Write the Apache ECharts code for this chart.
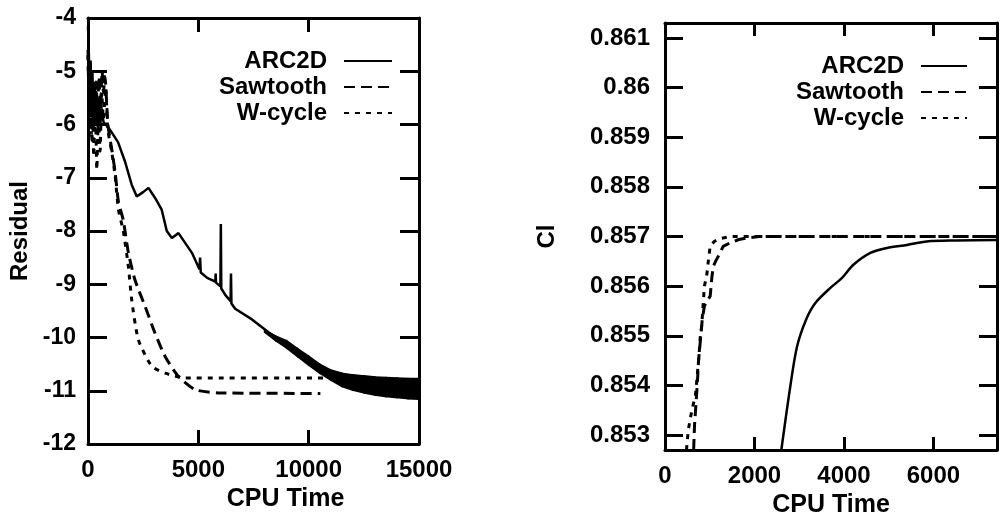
<!DOCTYPE html>
<html>
<head>
<meta charset="utf-8">
<script src="https://cdn.jsdelivr.net/npm/echarts@6/dist/echarts.min.js"></script>
<style>html,body{margin:0;padding:0;background:#fff;}#c{width:1005px;height:523px;}</style>
</head>
<body>
<div id="c"></div>
<script>
// ---------- Left panel: Residual vs CPU Time ----------
var residualArc2d = [[0,-4.15],[40,-4.7],[80,-5.6],[120,-4.8],[160,-5.8],[200,-5.0],[250,-6.1],[300,-5.2],[350,-5.9],[400,-5.4],[450,-6.2],[500,-5.6],[560,-6.0],[620,-5.7],[700,-5.95],[800,-6.0],[1000,-6.1],[1360,-6.33],[1680,-6.7],[1980,-7.13],[2210,-7.35],[2500,-7.27],[2740,-7.19],[3040,-7.38],[3340,-7.6],[3570,-8.0],[3800,-8.13],[4100,-8.04],[4710,-8.41],[5050,-8.72],[5080,-8.5],[5110,-8.78],[5400,-8.88],[5770,-8.95],[5785,-8.8],[5800,-8.97],[6000,-9.04],[6020,-7.87],[6040,-9.08],[6220,-9.2],[6460,-9.32],[6480,-8.8],[6500,-9.36],[6670,-9.46],[7430,-9.66],[8180,-9.9],[9000,-10.13],[10000,-10.44],[11000,-10.71],[12000,-10.84],[13000,-10.91],[14000,-10.95],[15000,-10.97]];
var residualSawtooth = [[0,-4.6],[60,-5.8],[120,-5.0],[180,-6.3],[240,-5.3],[300,-6.0],[360,-5.2],[420,-5.9],[500,-5.1],[560,-5.7],[640,-5.0],[700,-5.4],[770,-5.1],[900,-6.0],[1070,-6.45],[1225,-6.88],[1380,-7.45],[1600,-7.8],[1830,-8.41],[2130,-8.92],[2590,-9.42],[3040,-9.92],[3500,-10.36],[4100,-10.73],[4860,-10.98],[5900,-11.04],[10530,-11.05]];
var residualWcycle = [[0,-4.7],[50,-5.5],[100,-4.9],[150,-6.2],[200,-5.4],[260,-6.6],[330,-5.6],[400,-6.85],[470,-5.8],[550,-6.5],[620,-5.4],[700,-5.9],[800,-5.3],[900,-6.1],[1070,-6.5],[1225,-6.95],[1380,-7.6],[1600,-8.0],[1830,-8.67],[1980,-9.29],[2280,-10.04],[2890,-10.54],[3500,-10.67],[4400,-10.76],[10840,-10.76]];
// oscillation envelope of ARC2D at late times
var bandX     = [8000, 8500, 9000, 9500, 10000, 10500, 11000, 11500, 12000, 12500, 13000, 13500, 14000, 14500, 15000];
var bandUpper = [-9.86, -9.97, -10.06, -10.21, -10.35, -10.5, -10.61, -10.67, -10.7, -10.72, -10.74, -10.75, -10.76, -10.77, -10.77];
var bandLower = [-9.9, -10.06, -10.2, -10.36, -10.52, -10.67, -10.8, -10.92, -10.99, -11.04, -11.08, -11.11, -11.13, -11.15, -11.16];
var leftXTicks = [0, 5000, 10000, 15000];
var leftYTicks = [-12, -11, -10, -9, -8, -7, -6, -5, -4];

// ---------- Right panel: Cl vs CPU Time ----------
var clArc2d = [[2600,0.8527],[2800,0.85398],[2950,0.85478],[3150,0.85532],[3360,0.85566],[3690,0.85596],[3950,0.85616],[4210,0.85643],[4590,0.85667],[4960,0.85677],[5410,0.85683],[5850,0.8569],[6500,0.85692],[7420,0.85693]];
var clSawtooth = [[640,0.8527],[660,0.8532],[690,0.8536],[720,0.854],[750,0.8545],[790,0.8549],[830,0.8553],[880,0.8556],[940,0.8557],[1010,0.8558],[1050,0.8562],[1080,0.8564],[1130,0.8565],[1190,0.8566],[1300,0.8568],[1450,0.85687],[1650,0.85694],[1830,0.85697],[2100,0.857],[7420,0.857]];
var clWcycle = [[480,0.8527],[520,0.8531],[560,0.8533],[600,0.8535],[680,0.8538],[720,0.8542],[760,0.8546],[790,0.855],[820,0.8552],[850,0.8556],[880,0.856],[930,0.8562],[980,0.8566],[1010,0.8568],[1100,0.8569],[1200,0.85695],[1450,0.857],[7420,0.857]];
var rightXTicks = [0, 2000, 4000, 6000];
var rightYTicks = [0.853, 0.854, 0.855, 0.856, 0.857, 0.858, 0.859, 0.86, 0.861];

var seriesNames = ['ARC2D', 'Sawtooth', 'W-cycle'];

var FONT = 'Liberation Sans';
var dashLong = [11, 6];
var dashShort = [5, 6];
function plain(v) { return String(v); }

function axisBase(extra) {
  var a = {
    axisLine: {show: true, onZero: false, lineStyle: {color: '#000', width: 3}},
    splitLine: {show: false},
    axisLabel: {show: false},
    axisTick: {show: true, inside: true, length: 15, lineStyle: {color: '#000', width: 3}}
  };
  for (var k in extra) a[k] = extra[k];
  return a;
}
function legendOpt(right, top, w) {
  return {data: seriesNames, orient: 'vertical', align: 'right', right: right, top: top, padding: 0,
    itemWidth: w, itemHeight: 14, itemGap: 2, selectedMode: false,
    itemStyle: {opacity: 0, borderWidth: 0},
    textStyle: {fontFamily: FONT, fontWeight: 'bold', fontSize: 24, color: '#000', lineHeight: 24, padding: [0, 12, 0, 0]}};
}

// band segments: each item joins envelope point i to point i+1
var bandSegments = [];
for (var i = 0; i < bandX.length - 1; i++) {
  bandSegments.push([bandX[i], bandUpper[i], bandLower[i], bandX[i + 1], bandUpper[i + 1], bandLower[i + 1]]);
}
function renderBand(params, api) {
  var a = api.coord([api.value(0), api.value(1)]);
  var b = api.coord([api.value(3), api.value(4)]);
  var c = api.coord([api.value(3), api.value(5)]);
  var d = api.coord([api.value(0), api.value(2)]);
  return {type: 'polygon', shape: {points: [a, b, c, d]},
    style: {fill: '#000', stroke: '#000', lineWidth: 1.5}};
}

var chart = echarts.init(document.getElementById('c'), null, {renderer: 'canvas'});

chart.setOption({
  animation: false,
  backgroundColor: '#fff',
  grid: [
    {left: 88, right: 586, top: 18, bottom: 79},
    {left: 665, right: 8, top: 23, bottom: 73}
  ],
  legend: [legendOpt(612, 49, 48), legendOpt(37, 54, 46)],
  xAxis: [
    axisBase({type: 'value', gridIndex: 0, min: 0, max: 15000, position: 'bottom',
      name: 'CPU Time', nameLocation: 'middle', nameGap: 38,
      nameTextStyle: {fontFamily: FONT, fontWeight: 'bold', fontSize: 25, color: '#000', padding: [0, 0, 0, 64]},
      axisLabel: {show: true, customValues: leftXTicks, formatter: plain, margin: 14, fontFamily: FONT, fontWeight: 'bold', fontSize: 24, color: '#000'},
      axisTick: {show: true, inside: true, length: 14, customValues: leftXTicks, lineStyle: {color: '#000', width: 3}}}),
    axisBase({type: 'value', gridIndex: 0, min: 0, max: 15000, position: 'top',
      axisTick: {show: true, inside: true, length: 14, customValues: leftXTicks, lineStyle: {color: '#000', width: 3}}}),
    axisBase({type: 'value', gridIndex: 1, min: 0, max: 7420, position: 'bottom',
      name: 'CPU Time', nameLocation: 'middle', nameGap: 40,
      nameTextStyle: {fontFamily: FONT, fontWeight: 'bold', fontSize: 25, color: '#000'},
      axisLabel: {show: true, customValues: rightXTicks, formatter: plain, margin: 14, fontFamily: FONT, fontWeight: 'bold', fontSize: 24, color: '#000'},
      axisTick: {show: true, inside: true, length: 13, customValues: rightXTicks, lineStyle: {color: '#000', width: 3}}}),
    axisBase({type: 'value', gridIndex: 1, min: 0, max: 7420, position: 'top',
      axisTick: {show: true, inside: true, length: 13, customValues: rightXTicks, lineStyle: {color: '#000', width: 3}}})
  ],
  yAxis: [
    axisBase({type: 'value', gridIndex: 0, min: -12, max: -4, position: 'left',
      name: 'Residual', nameLocation: 'middle', nameGap: 56,
      nameTextStyle: {fontFamily: FONT, fontWeight: 'bold', fontSize: 24, color: '#000'},
      axisLabel: {show: true, customValues: leftYTicks, formatter: plain, margin: 12, fontFamily: FONT, fontWeight: 'bold', fontSize: 23, color: '#000'},
      axisTick: {show: true, inside: true, length: 19, customValues: leftYTicks, lineStyle: {color: '#000', width: 3}}}),
    axisBase({type: 'value', gridIndex: 0, min: -12, max: -4, position: 'right',
      axisTick: {show: true, inside: true, length: 19, customValues: leftYTicks, lineStyle: {color: '#000', width: 3}}}),
    axisBase({type: 'value', gridIndex: 1, min: 0.8527, max: 0.8613, position: 'left',
      name: 'Cl', nameLocation: 'middle', nameGap: 106,
      nameTextStyle: {fontFamily: FONT, fontWeight: 'bold', fontSize: 24, color: '#000'},
      axisLabel: {show: true, customValues: rightYTicks, formatter: plain, margin: 15, fontFamily: FONT, fontWeight: 'bold', fontSize: 24, color: '#000'},
      axisTick: {show: true, inside: true, length: 18, customValues: rightYTicks, lineStyle: {color: '#000', width: 3}}}),
    axisBase({type: 'value', gridIndex: 1, min: 0.8527, max: 0.8613, position: 'right',
      axisTick: {show: true, inside: true, length: 18, customValues: rightYTicks, lineStyle: {color: '#000', width: 3}}})
  ],
  series: [
    {name: 'ARC2D', type: 'line', xAxisIndex: 0, yAxisIndex: 0, data: residualArc2d, symbol: 'none',
     lineStyle: {color: '#000', width: 2.5, type: 'solid'}, itemStyle: {color: '#000'}},
    {name: 'Sawtooth', type: 'line', xAxisIndex: 0, yAxisIndex: 0, data: residualSawtooth, symbol: 'none', smooth: 0.2,
     lineStyle: {color: '#000', width: 3, type: dashLong}, itemStyle: {color: '#000'}},
    {name: 'W-cycle', type: 'line', xAxisIndex: 0, yAxisIndex: 0, data: residualWcycle, symbol: 'none', smooth: 0.2,
     lineStyle: {color: '#000', width: 3, type: dashShort}, itemStyle: {color: '#000'}},
    {name: 'ARC2D band', type: 'custom', xAxisIndex: 0, yAxisIndex: 0, data: bandSegments,
     renderItem: renderBand, encode: {x: [0, 3], y: [1, 2, 4, 5]}, silent: true, clip: true},

    {name: 'ARC2D', type: 'line', xAxisIndex: 2, yAxisIndex: 2, data: clArc2d, symbol: 'none', smooth: 0.3,
     lineStyle: {color: '#000', width: 2.5, type: 'solid'}, itemStyle: {color: '#000'}},
    {name: 'Sawtooth', type: 'line', xAxisIndex: 2, yAxisIndex: 2, data: clSawtooth, symbol: 'none',
     lineStyle: {color: '#000', width: 3, type: dashLong}, itemStyle: {color: '#000'}},
    {name: 'W-cycle', type: 'line', xAxisIndex: 2, yAxisIndex: 2, data: clWcycle, symbol: 'none',
     lineStyle: {color: '#000', width: 3, type: dashShort}, itemStyle: {color: '#000'}}
  ]
});
</script>
</body>
</html>
